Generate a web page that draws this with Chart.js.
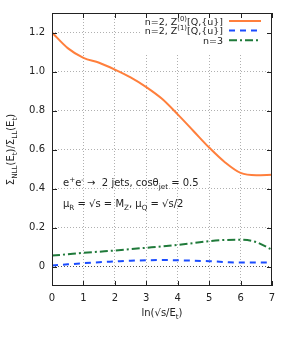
<!DOCTYPE html>
<html>
<head>
<meta charset="utf-8">
<script src="https://cdn.jsdelivr.net/npm/chart.js@4"></script>
<style>
  html, body { margin: 0; padding: 0; background: #fff; }
  #wrap { width: 291px; height: 354px; }
</style>
</head>
<body>
<div id="wrap"><canvas id="chart" width="291" height="354"></canvas></div>
<script>
// values
const xVals = [0, 0.5, 1, 1.5, 2, 2.5, 3, 3.5, 4, 4.5, 5, 5.5, 6, 6.5, 7];
const nTwoZ0 = [1.2, 1.12, 1.07, 1.045, 1.01, 0.97, 0.92, 0.86, 0.78, 0.695, 0.61, 0.535, 0.48, 0.468, 0.47];
const nTwoZ1 = [0.005, 0.011, 0.017, 0.022, 0.026, 0.03, 0.032, 0.033, 0.032, 0.03, 0.027, 0.023, 0.02, 0.02, 0.02];
const nThree = [0.056, 0.063, 0.07, 0.076, 0.082, 0.089, 0.096, 0.103, 0.111, 0.12, 0.13, 0.136, 0.137, 0.125, 0.086];
const yTicks = [0, 0.2, 0.4, 0.6, 0.8, 1, 1.2];
const xTicks = [0, 1, 2, 3, 4, 5, 6, 7];

const FONT = '"DejaVu Sans", sans-serif';
const FS = 10;

// Farben
const cOrange = '#ff7f3c';
const cBlue = '#1a4cff';
const cGreen = '#1f7a3a';

function pts(ys) {
  return xVals.map((x, i) => ({ x: x, y: ys[i] }));
}

// draws text made of segments, s = 'sub' | 'sup' | undefined
function richWidth(ctx, segs, fs) {
  let w = 0;
  segs.forEach(sg => {
    ctx.font = (sg.s ? fs * 0.72 : fs) + 'px ' + FONT;
    w += ctx.measureText(sg.t).width;
  });
  return w;
}
function richText(ctx, segs, x, y, align, fs) {
  fs = fs || FS;
  let w = richWidth(ctx, segs, fs);
  let cx = align === 'right' ? x - w : (align === 'center' ? x - w / 2 : x);
  ctx.textAlign = 'left';
  ctx.textBaseline = 'alphabetic';
  segs.forEach(sg => {
    ctx.font = (sg.s ? fs * 0.72 : fs) + 'px ' + FONT;
    let dy = sg.s === 'sub' ? fs * 0.28 : (sg.s === 'sup' ? -fs * 0.38 : 0);
    ctx.fillText(sg.t, cx, y + dy);
    cx += ctx.measureText(sg.t).width;
  });
}

const legendRows = [
  { segs: [{ t: 'n=2, Z' }, { t: '(0)', s: 'sup' }, { t: '[Q,{u}]' }], color: cOrange, dash: [] },
  { segs: [{ t: 'n=2, Z' }, { t: '(1)', s: 'sup' }, { t: '[Q,{u}]' }], color: cBlue, dash: [6, 5] },
  { segs: [{ t: 'n=3' }], color: cGreen, dash: [8, 3, 2, 3] }
];

const decor = {
  id: 'decor',
  beforeDatasetsDraw(chart) {
    const ctx = chart.ctx;
    const a = chart.chartArea;
    // key box hides grid
    ctx.save();
    ctx.fillStyle = '#fff';
    ctx.fillRect(140, a.top + 1, a.right - 141, 40);
    ctx.restore();
  },
  afterDatasetsDraw(chart) {
    const ctx = chart.ctx;
    const a = chart.chartArea;
    const xs = chart.scales.x, ys = chart.scales.y;
    ctx.save();
    // frame + inward ticks on all sides
    ctx.strokeStyle = '#222';
    ctx.lineWidth = 1;
    ctx.strokeRect(a.left + 0.5, a.top + 0.5, a.right - a.left - 1, a.bottom - a.top - 1);
    ctx.beginPath();
    xTicks.forEach(v => {
      const px = Math.round(xs.getPixelForValue(v)) + 0.5;
      ctx.moveTo(px, a.bottom); ctx.lineTo(px, a.bottom - 5);
      ctx.moveTo(px, a.top); ctx.lineTo(px, a.top + 5);
    });
    yTicks.forEach(v => {
      const py = Math.round(ys.getPixelForValue(v)) + 0.5;
      ctx.moveTo(a.left, py); ctx.lineTo(a.left + 5, py);
      ctx.moveTo(a.right, py); ctx.lineTo(a.right - 5, py);
    });
    ctx.stroke();

    // legend
    ctx.fillStyle = '#222';
    legendRows.forEach((r, i) => {
      const y = 21 + i * 9.6;
      richText(ctx, r.segs, 223, y + 3.5, 'right', 9.5);
      ctx.strokeStyle = r.color;
      ctx.lineWidth = 2;
      ctx.setLineDash(r.dash);
      ctx.beginPath();
      ctx.moveTo(229, y); ctx.lineTo(261, y);
      ctx.stroke();
    });
    ctx.setLineDash([]);

    // labels inside the plot
    ctx.fillStyle = '#222';
    richText(ctx, [{ t: 'e' }, { t: '+', s: 'sup' }, { t: 'e' }, { t: '-', s: 'sup' }, { t: ' \u2192  2 jets, cos\u03b8' }, { t: 'jet', s: 'sub' }, { t: ' = 0.5' }], 63, 186, 'left');
    richText(ctx, [{ t: '\u03bc' }, { t: 'R', s: 'sub' }, { t: ' = \u221as = M' }, { t: 'Z', s: 'sub' }, { t: ', \u03bc' }, { t: 'Q', s: 'sub' }, { t: ' = \u221as/2' }], 63, 207, 'left');

    // axis titles
    richText(ctx, [{ t: 'ln(\u221as/E' }, { t: 't', s: 'sub' }, { t: ')' }], (a.left + a.right) / 2, 316, 'center');
    ctx.translate(14, (a.top + a.bottom) / 2);
    ctx.rotate(-Math.PI / 2);
    richText(ctx, [{ t: '\u03a3' }, { t: 'NLL', s: 'sub' }, { t: '(E' }, { t: 't', s: 'sub' }, { t: ')/\u03a3' }, { t: 'LL', s: 'sub' }, { t: '(E' }, { t: 't', s: 'sub' }, { t: ')' }], 0, 0, 'center');
    ctx.restore();
  }
};

new Chart(document.getElementById('chart'), {
  type: 'line',
  data: {
    datasets: [
      { data: pts(nTwoZ0), borderColor: cOrange, borderWidth: 2, pointRadius: 0, cubicInterpolationMode: 'monotone' },
      { data: pts(nTwoZ1), borderColor: cBlue, borderWidth: 2, borderDash: [6, 5], pointRadius: 0, cubicInterpolationMode: 'monotone' },
      { data: pts(nThree), borderColor: cGreen, borderWidth: 2, borderDash: [8, 3, 2, 3], pointRadius: 0, cubicInterpolationMode: 'monotone' }
    ]
  },
  options: {
    responsive: false,
    animation: false,
    events: [],
    layout: { padding: { top: 13, right: 19, left: 0, bottom: 0 } },
    plugins: { legend: { display: false }, tooltip: { enabled: false } },
    scales: {
      x: {
        type: 'linear',
        min: 0, max: 7,
        afterBuildTicks: s => { s.ticks = xTicks.map(v => ({ value: v })); },
        afterFit: s => { s.height = 354 - 286; },
        grid: { color: c => (c.tick.value === 0 || c.tick.value === 7) ? 'rgba(0,0,0,0)' : '#b0b0b0', drawTicks: false },
        border: { display: false, dash: [1, 2] },
        ticks: { color: '#222', font: { family: FONT, size: FS }, padding: 6, maxRotation: 0 }
      },
      y: {
        min: -0.1, max: 1.3,
        afterBuildTicks: s => { s.ticks = yTicks.map(v => ({ value: v })); },
        afterFit: s => { s.width = 52; },
        grid: { color: c => c.tick.value === 0 ? '#555' : '#b0b0b0', drawTicks: false },
        border: { display: false, dash: [1, 2] },
        ticks: { color: '#222', font: { family: FONT, size: FS }, padding: 7 }
      }
    }
  },
  plugins: [decor]
});
</script>
</body>
</html>
